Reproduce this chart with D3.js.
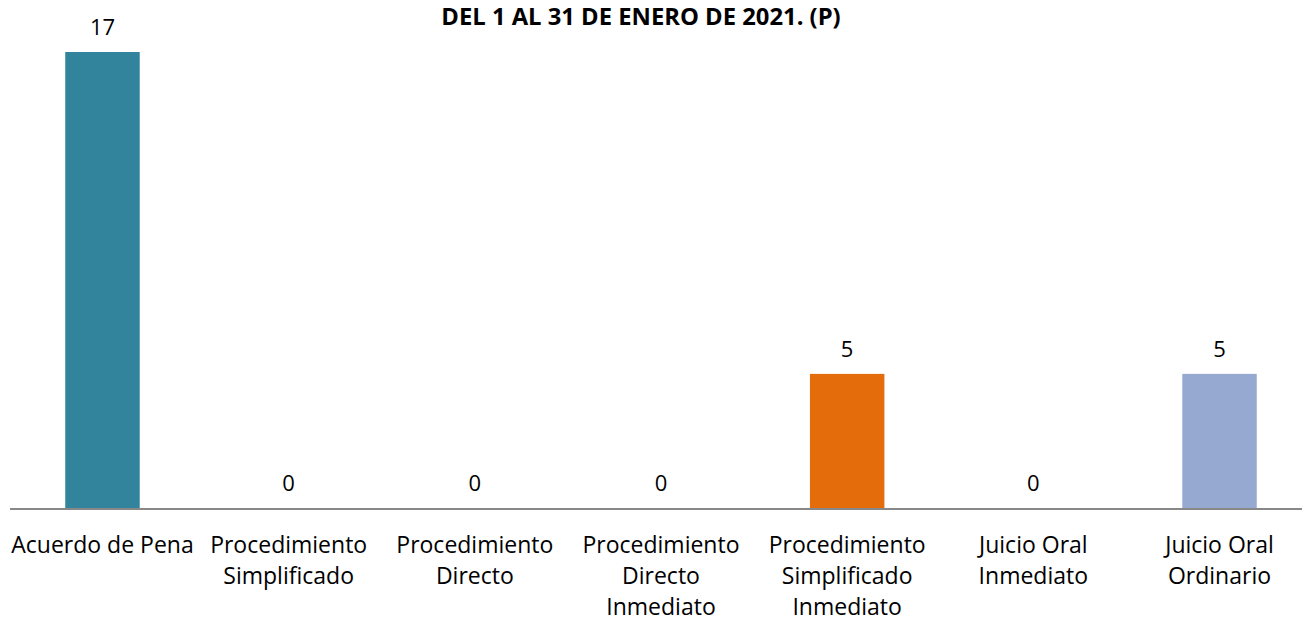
<!DOCTYPE html>
<html><head><meta charset="utf-8">
<script src="https://cdn.jsdelivr.net/npm/d3@7"></script>
<style>body{margin:0;background:#fff}svg{display:block}</style>
</head><body><svg id="c" width="1302" height="617"></svg>
<script>
const title = "DEL 1 AL 31 DE ENERO DE 2021. (P)";
const categories = ["Acuerdo de Pena","Procedimiento Simplificado","Procedimiento Directo","Procedimiento Directo Inmediato","Procedimiento Simplificado Inmediato","Juicio Oral Inmediato","Juicio Oral Ordinario"];
const labelLines = [["Acuerdo de Pena"],["Procedimiento","Simplificado"],["Procedimiento","Directo"],["Procedimiento","Directo","Inmediato"],["Procedimiento","Simplificado","Inmediato"],["Juicio Oral","Inmediato"],["Juicio Oral","Ordinario"]];
const values = [17,0,0,0,5,0,5];
const colors = ["#31849B","#E46C0A","#E46C0A","#E46C0A","#E46C0A","#95A9D1","#95A9D1"];

const font = "'Open Sans', sans-serif";
const svg = d3.select("#c");
const x = d3.scaleBand().domain(categories).range([9.4, 1312.6]).paddingInner(0.6).paddingOuter(0.3);
const y = d3.scaleLinear().domain([0,17]).range([508,52]);

svg.append("text").attr("x",641).attr("y",25).attr("text-anchor","middle")
  .attr("font-family",font).attr("font-weight","bold").attr("font-size",23.8).attr("fill","#000").text(title);

svg.selectAll("rect.bar").data(categories).enter().append("rect").attr("class","bar")
  .attr("x",d=>x(d)).attr("width",x.bandwidth())
  .attr("y",(d,i)=>y(values[i])).attr("height",(d,i)=>y(0)-y(values[i]))
  .attr("fill",(d,i)=>colors[i]);

svg.selectAll("text.val").data(categories).enter().append("text").attr("class","val")
  .attr("x",d=>x(d)+x.bandwidth()/2).attr("y",(d,i)=>y(values[i])-17)
  .attr("text-anchor","middle").attr("font-family",font).attr("font-size",22).attr("fill","#000")
  .text((d,i)=>values[i]);

const axis = d3.axisBottom(x).tickSize(0).tickFormat("");
const g = svg.append("g").attr("transform","translate(0,509)").call(axis);
g.select(".domain").attr("stroke","#888").attr("stroke-width",2).attr("d","M10,0H1302");

const lbl = svg.selectAll("text.cat").data(categories).enter().append("text").attr("class","cat")
  .attr("text-anchor","middle").attr("font-family",font).attr("font-size",23).attr("fill","#000");
lbl.each(function(d,i){
  const t = d3.select(this);
  labelLines[i].forEach((ln,j)=>{
    t.append("tspan").attr("x",x(d)+x.bandwidth()/2).attr("y",553+j*31).text(ln);
  });
});
</script></body></html>
